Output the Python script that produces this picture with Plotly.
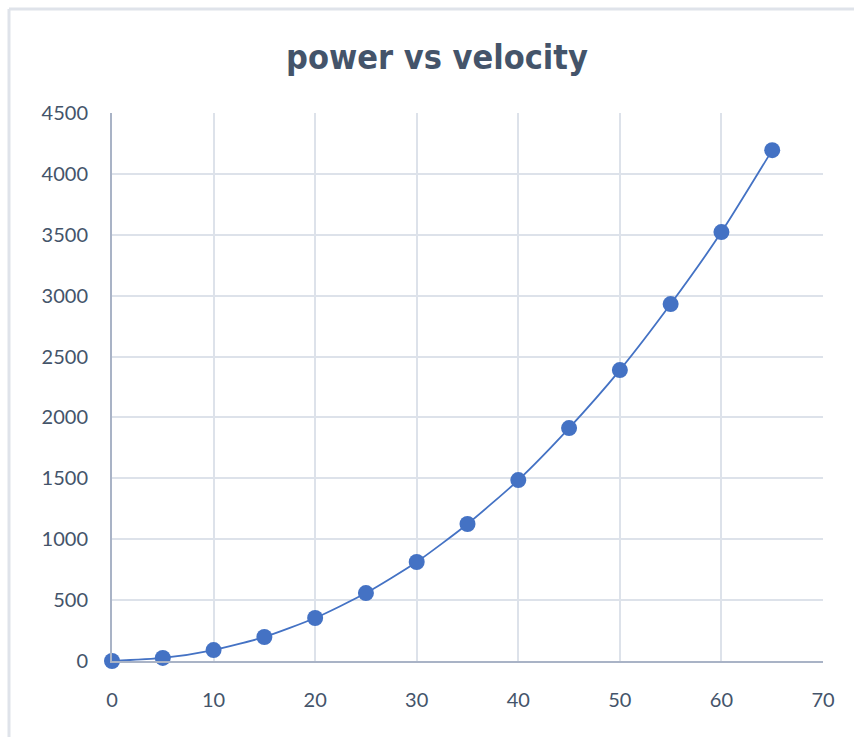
import plotly.graph_objects as go

velocity = [0, 5, 10, 15, 20, 25, 30, 35, 40, 45, 50, 55, 60, 65]
power = [0, 25, 90, 197, 353, 558, 813, 1125, 1486, 1913, 2389, 2931, 3522, 4195]

x_ticks = [0, 10, 20, 30, 40, 50, 60, 70]
y_ticks = [0, 500, 1000, 1500, 2000, 2500, 3000, 3500, 4000, 4500]

W, H = 854, 737
L, R, T, B = 112, 823, 113, 661

fig = go.Figure()
fig.add_trace(go.Scatter(
    x=velocity, y=power, mode="lines+markers",
    line=dict(color="#4472C4", width=1.8, shape="spline", smoothing=0.6),
    marker=dict(color="#4472C4", size=16, line=dict(width=0)),
    showlegend=False, cliponaxis=False,
))

def px(xp):
    return (xp - L) / (R - L)

def py(yp):
    return (B - yp) / (B - T)

fig.update_layout(
    width=W, height=H,
    margin=dict(l=L, r=W - R, t=T, b=H - B),
    paper_bgcolor="white", plot_bgcolor="white",
    title=dict(text="<b>power vs velocity</b>", x=437 / W, xanchor="center",
               y=1 - 57 / H, yanchor="middle",
               font=dict(family="DejaVu Sans Condensed", size=34, color="#44546A")),
    xaxis=dict(range=[0, 70], tickvals=x_ticks, showgrid=True, gridcolor="#DDE2EA",
               gridwidth=2, zeroline=False, showline=True, linecolor="#A9B3C6",
               linewidth=2, mirror=False, ticks="",
               tickfont=dict(family="Lato", size=20, color="#44546A"),
               ticklabelstandoff=20),
    yaxis=dict(range=[0, 4500], tickvals=y_ticks, showgrid=True, gridcolor="#DDE2EA",
               gridwidth=2, zeroline=False, showline=True, linecolor="#A9B3C6",
               linewidth=2, ticks="",
               tickfont=dict(family="Lato", size=20, color="#44546A"),
               ticklabelstandoff=18),
    shapes=[
        dict(type="line", xref="paper", yref="paper", x0=px(9), x1=px(900), y0=py(9), y1=py(9),
             line=dict(color="#DFE3EA", width=3)),
        dict(type="line", xref="paper", yref="paper", x0=px(9), x1=px(9), y0=py(9), y1=py(800),
             line=dict(color="#DFE3EA", width=3)),
    ],
)

fig.write_html("out.html")
